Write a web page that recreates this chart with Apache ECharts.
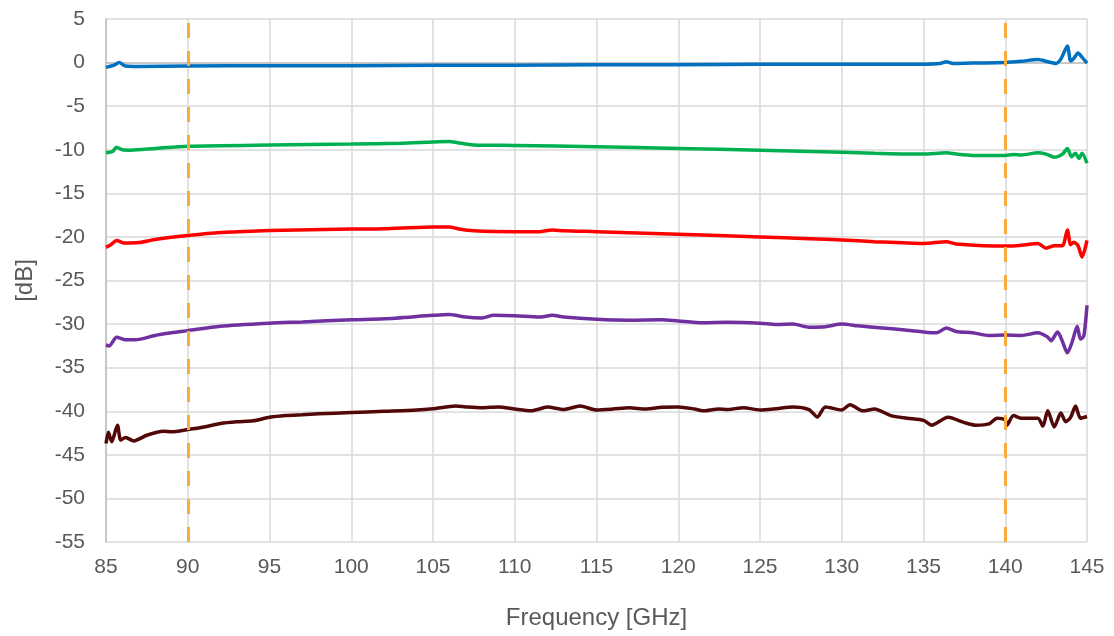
<!DOCTYPE html>
<html>
<head>
<meta charset="utf-8">
<script src="https://cdn.jsdelivr.net/npm/echarts@6/dist/echarts.min.js"></script>
<style>
html,body{margin:0;padding:0;background:#fff;}
#chart{width:1114px;height:636px;}
</style>
</head>
<body>
<div id="chart"></div>
<script>
// Tick values
const xTicks = [85, 90, 95, 100, 105, 110, 115, 120, 125, 130, 135, 140, 145];
const yTicks = [5, 0, -5, -10, -15, -20, -25, -30, -35, -40, -45, -50, -55];
const refLines = [90, 140];

// Series 1 (blue)
const blueX = [85, 85.5, 85.8, 86.2, 87, 90, 95, 100, 105, 110, 115, 120, 125, 130, 134, 136, 136.4, 136.8, 138, 140, 141, 142, 142.6, 143.1, 143.4, 143.8, 144.0, 144.2, 144.45, 144.7, 145];
const blueY = [-0.55, -0.3, 0.0, -0.4, -0.45, -0.4, -0.35, -0.35, -0.3, -0.3, -0.25, -0.25, -0.2, -0.2, -0.2, -0.1, 0.1, -0.1, -0.05, 0.0, 0.15, 0.35, 0.1, -0.1, 0.4, 1.9, 0.2, 0.5, 1.1, 0.6, -0.05];

// Series 2 (green)
const greenX = [85, 85.4, 85.65, 86, 86.5, 88, 90, 95, 100, 103, 105, 106, 106.5, 107.5, 110, 115, 120, 125, 130, 132, 135, 136.4, 137, 138, 140, 140.5, 141, 142, 142.5, 143, 143.5, 143.8, 144.05, 144.3, 144.5, 144.7, 145];
const greenY = [-10.35, -10.2, -9.7, -10.0, -10.05, -9.85, -9.6, -9.45, -9.35, -9.25, -9.1, -9.05, -9.2, -9.45, -9.5, -9.65, -9.85, -10.05, -10.3, -10.4, -10.5, -10.35, -10.5, -10.65, -10.65, -10.55, -10.6, -10.35, -10.5, -10.85, -10.5, -9.85, -10.8, -10.4, -11.0, -10.4, -11.55];

// Series 3 (red)
const redX = [85, 85.3, 85.65, 86.1, 87, 88, 90, 92, 95, 100, 102, 105, 106, 106.6, 107.5, 110, 111.5, 112.3, 113, 115, 120, 125, 128, 130, 132, 135, 136.4, 137, 140, 141, 142, 142.5, 143, 143.5, 143.8, 144.0, 144.2, 144.45, 144.7, 145];
const redY = [-21.2, -20.9, -20.4, -20.7, -20.65, -20.3, -19.85, -19.5, -19.25, -19.1, -19.05, -18.85, -18.85, -19.1, -19.3, -19.4, -19.4, -19.2, -19.3, -19.4, -19.7, -20.0, -20.2, -20.35, -20.55, -20.75, -20.55, -20.8, -21.05, -20.95, -20.75, -21.3, -21.0, -21.0, -19.2, -20.9, -20.6, -21.0, -22.3, -20.4];

// Series 4 (purple)
const purpleX = [85, 85.2, 85.65, 86.2, 86.8, 88, 89, 90, 92, 95, 97, 100, 102, 105, 106, 107, 108, 108.7, 110, 111.5, 112.3, 113, 115, 117, 119, 120, 121.5, 123, 125, 126, 127, 128, 129, 130, 131, 132.5, 134, 135, 135.8, 136.4, 137, 138, 139, 140, 141, 142, 142.6, 142.8, 143.2, 143.5, 143.8, 144.1, 144.4, 144.6, 144.8, 145];
const purpleY = [-32.4, -32.5, -31.5, -31.8, -31.8, -31.3, -31.0, -30.75, -30.25, -29.9, -29.75, -29.5, -29.4, -29.0, -28.9, -29.2, -29.3, -29.0, -29.05, -29.2, -29.0, -29.2, -29.45, -29.55, -29.5, -29.65, -29.85, -29.8, -29.9, -30.05, -30.0, -30.35, -30.3, -30.0, -30.2, -30.45, -30.7, -30.9, -31.0, -30.45, -30.85, -31.0, -31.3, -31.25, -31.3, -31.0, -31.5, -31.9, -30.9, -32.0, -33.3, -32.0, -30.25, -31.7, -31.4, -27.85];

// Series 5 (maroon)
const maroonX = [85, 85.15, 85.35, 85.7, 85.9, 86.2, 86.7, 87.5, 88.5, 89, 90, 91, 92, 93, 94, 95, 96, 97, 98, 100, 102, 104, 105, 106.4, 107, 108, 109, 110, 111, 111.5, 112, 113, 114, 115, 116, 117, 118, 119, 120, 121, 121.5, 122.5, 123, 124, 125, 126, 127, 128, 128.5, 129, 130, 130.5, 131.3, 132, 133, 134, 135, 135.5, 136.5, 137.5, 138.2, 139, 139.5, 140, 140.1, 140.5, 141, 142, 142.3, 142.6, 143, 143.4, 143.7, 144, 144.3, 144.6, 145];
const maroonY = [-43.7, -42.4, -43.5, -41.6, -43.3, -43.0, -43.4, -42.75, -42.3, -42.35, -42.1, -41.8, -41.4, -41.2, -41.1, -40.7, -40.5, -40.4, -40.3, -40.15, -40.0, -39.85, -39.7, -39.4, -39.5, -39.6, -39.5, -39.75, -39.95, -39.75, -39.5, -39.8, -39.4, -39.85, -39.75, -39.6, -39.75, -39.55, -39.5, -39.75, -39.95, -39.75, -39.8, -39.6, -39.85, -39.7, -39.5, -39.8, -40.65, -39.5, -39.85, -39.25, -39.95, -39.75, -40.5, -40.8, -41.05, -41.6, -40.7, -41.3, -41.6, -41.45, -40.8, -41.0, -41.6, -40.5, -40.8, -40.8, -41.7, -39.95, -41.8, -40.2, -41.2, -40.7, -39.4, -40.8, -40.6];

const zip = (xs, ys) => xs.map((x, i) => [x, ys[i]]);
const FONT = '"Liberation Sans", Arial, sans-serif';
const LABEL = '#595959';

const curves = [
  { name: 'S1', x: blueX, y: blueY, color: '#0070C0' },
  { name: 'S2', x: greenX, y: greenY, color: '#00B050' },
  { name: 'S3', x: redX, y: redY, color: '#FF0000' },
  { name: 'S4', x: purpleX, y: purpleY, color: '#7030A0' },
  { name: 'S5', x: maroonX, y: maroonY, color: '#520808' }
];

const series = curves.map(c => ({
  name: c.name,
  type: 'line',
  data: zip(c.x, c.y),
  showSymbol: false,
  smooth: 0.25,
  lineStyle: { color: c.color, width: 3.5 },
  itemStyle: { color: c.color },
  z: 3
}));

series.push({
  name: 'ref',
  type: 'line',
  data: [],
  z: 5,
  markLine: {
    silent: true,
    symbol: ['none', 'none'],
    label: { show: false },
    lineStyle: { color: '#FBAA3C', width: 3, type: [15, 13] },
    data: refLines.map(v => ({ xAxis: v }))
  }
});

const chart = echarts.init(document.getElementById('chart'), null, { renderer: 'canvas' });
chart.setOption({
  animation: false,
  backgroundColor: '#ffffff',
  textStyle: { fontFamily: FONT },
  grid: { left: 106, right: 27, top: 19, bottom: 94, containLabel: false, outerBoundsMode: 'none' },
  xAxis: {
    type: 'value',
    min: xTicks[0],
    max: xTicks[xTicks.length - 1],
    interval: 5,
    name: 'Frequency [GHz]',
    nameLocation: 'middle',
    nameGap: 64,
    nameTextStyle: { color: LABEL, fontSize: 24, fontFamily: FONT },
    axisLine: { show: true, lineStyle: { color: '#BFBFBF', width: 1.5 } },
    axisTick: { show: false },
    axisLabel: { color: LABEL, fontSize: 21, fontFamily: FONT, margin: 15 },
    splitLine: { show: true, lineStyle: { color: '#D9D9D9', width: 1.5 } }
  },
  yAxis: {
    type: 'value',
    min: yTicks[yTicks.length - 1],
    max: yTicks[0],
    interval: 5,
    name: '[dB]',
    nameLocation: 'middle',
    nameGap: 69,
    nameRotate: 90,
    nameTextStyle: { color: LABEL, fontSize: 24, fontFamily: FONT },
    axisLine: { show: true, lineStyle: { color: '#BFBFBF', width: 1.5 } },
    axisTick: { show: false },
    axisLabel: { color: LABEL, fontSize: 21, fontFamily: FONT, margin: 21 },
    splitLine: { show: true, lineStyle: { color: '#D9D9D9', width: 1.5 } }
  },
  series: series
});
</script>
</body>
</html>
